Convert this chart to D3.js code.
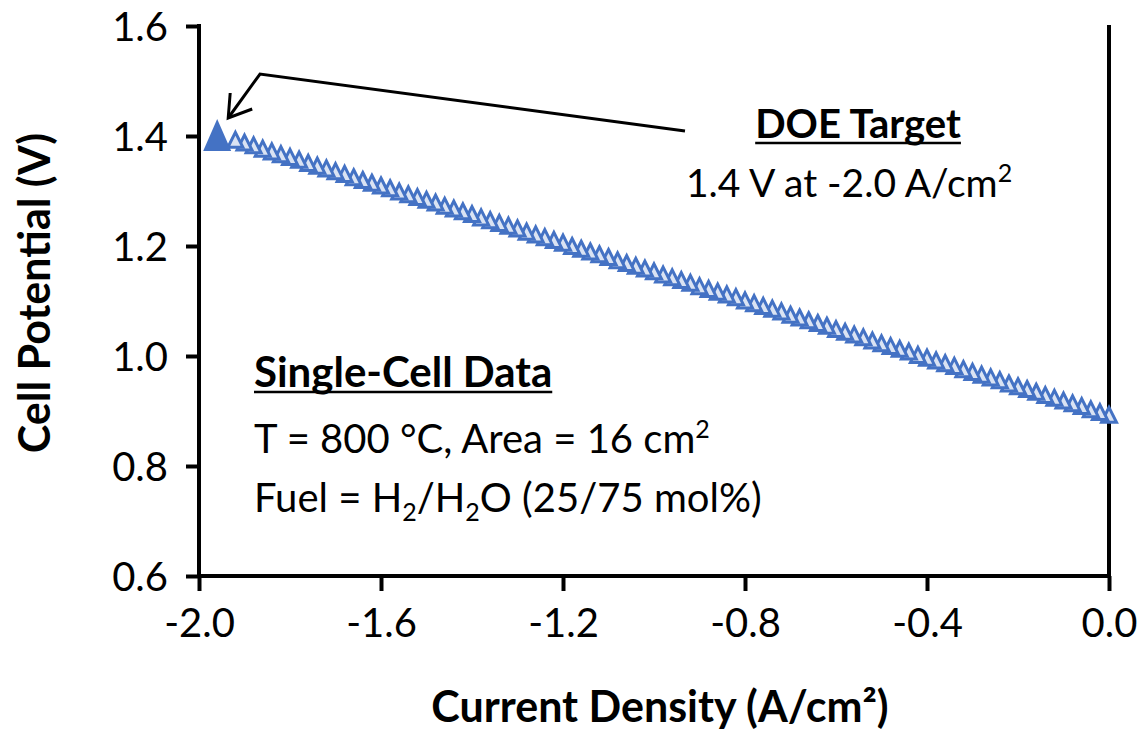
<!DOCTYPE html>
<html>
<head>
<meta charset="utf-8">
<script src="https://cdn.jsdelivr.net/npm/d3@7"></script>
<style>
  body { margin: 0; background: #fff; }
  svg text { font-family: Lato, "Noto Sans", sans-serif; fill: #000; }
</style>
</head>
<body>
<svg id="chart" width="1142" height="733"></svg>
<script>
// single-cell data
var currentDensity = [
  0.00, -0.02, -0.04, -0.06, -0.08, -0.10, -0.12, -0.14, -0.16, -0.18,
  -0.20, -0.22, -0.24, -0.26, -0.28, -0.30, -0.32, -0.34, -0.36, -0.38,
  -0.40, -0.42, -0.44, -0.46, -0.48, -0.50, -0.52, -0.54, -0.56, -0.58,
  -0.60, -0.62, -0.64, -0.66, -0.68, -0.70, -0.72, -0.74, -0.76, -0.78,
  -0.80, -0.82, -0.84, -0.86, -0.88, -0.90, -0.92, -0.94, -0.96, -0.98,
  -1.00, -1.02, -1.04, -1.06, -1.08, -1.10, -1.12, -1.14, -1.16, -1.18,
  -1.20, -1.22, -1.24, -1.26, -1.28, -1.30, -1.32, -1.34, -1.36, -1.38,
  -1.40, -1.42, -1.44, -1.46, -1.48, -1.50, -1.52, -1.54, -1.56, -1.58,
  -1.60, -1.62, -1.64, -1.66, -1.68, -1.70, -1.72, -1.74, -1.76, -1.78,
  -1.80, -1.82, -1.84, -1.86, -1.88, -1.90, -1.92
]
var cellPotential = [
  0.893, 0.898, 0.903, 0.909, 0.914, 0.919, 0.924, 0.929, 0.935, 0.940,
  0.945, 0.950, 0.956, 0.961, 0.966, 0.971, 0.976, 0.982, 0.987, 0.992,
  0.997, 1.002, 1.008, 1.013, 1.018, 1.023, 1.028, 1.034, 1.039, 1.044,
  1.049, 1.055, 1.060, 1.065, 1.070, 1.075, 1.081, 1.086, 1.091, 1.096,
  1.101, 1.107, 1.112, 1.117, 1.122, 1.127, 1.133, 1.138, 1.143, 1.148,
  1.154, 1.159, 1.164, 1.169, 1.174, 1.180, 1.185, 1.190, 1.195, 1.200,
  1.206, 1.211, 1.216, 1.221, 1.226, 1.232, 1.237, 1.242, 1.247, 1.252,
  1.258, 1.263, 1.268, 1.273, 1.279, 1.284, 1.289, 1.294, 1.299, 1.305,
  1.310, 1.315, 1.320, 1.325, 1.331, 1.336, 1.341, 1.346, 1.351, 1.357,
  1.362, 1.367, 1.372, 1.377, 1.383, 1.388, 1.393
]
// DOE target point
var targetCurrent = [-1.96]
var targetPotential = [1.40]

var xTicks = [-2.0, -1.6, -1.2, -0.8, -0.4, 0.0]
var yTicks = [0.6, 0.8, 1.0, 1.2, 1.4, 1.6]

var pLeft = 199, pRight = 1109, pTop = 26, pBottom = 576
var blue = "#4472C4"

var svg = d3.select("#chart")

var x = d3.scaleLinear().domain([-2.0, 0.0]).range([pLeft, pRight])
var y = d3.scaleLinear().domain([0.6, 1.6]).range([pBottom, pTop])

var fmt = d => d.toFixed(1)

// right border line
svg.append("line")
  .attr("x1", pRight).attr("x2", pRight)
  .attr("y1", pTop - 1).attr("y2", pBottom)
  .attr("stroke", "#000").attr("stroke-width", 4)

var xAxis = svg.append("g")
  .attr("transform", "translate(0," + pBottom + ")")
  .call(d3.axisBottom(x).tickValues(xTicks).tickFormat(fmt).tickSize(15).tickPadding(18).tickSizeOuter(0))
var yAxis = svg.append("g")
  .attr("transform", "translate(" + pLeft + ",0)")
  .call(d3.axisLeft(y).tickValues(yTicks).tickFormat(fmt).tickSize(13).tickPadding(18).tickSizeOuter(0))

svg.selectAll(".domain").attr("stroke", "#000").attr("stroke-width", 4)
xAxis.select(".domain").attr("d", "M" + (pLeft - 2) + ",0H" + (pRight + 2))
yAxis.select(".domain").attr("d", "M0," + (pTop - 2) + "V" + (pBottom + 2))
svg.selectAll(".tick line").attr("stroke", "#000").attr("stroke-width", 4)
svg.selectAll(".tick text").style("font-size", "40px").style("font-family", "Lato")
xAxis.selectAll(".tick text").attr("dy", "0.71em")
yAxis.selectAll(".tick text").attr("dy", "0.36em")

// triangle marker path, centred on its box
function triPath(w, h) {
  return "M0," + (-h / 2) + "L" + (w / 2) + "," + (h / 2) + "L" + (-w / 2) + "," + (h / 2) + "Z"
}

// open triangle markers
var pts = currentDensity.map(function(c, i) { return [c, cellPotential[i]] })
svg.append("g").selectAll("path")
  .data(pts)
  .enter()
  .append("path")
  .attr("d", triPath(15, 15))
  .attr("transform", d => "translate(" + x(d[0]) + "," + y(d[1]) + ")")
  .attr("fill", "#DAE3F3")
  .attr("stroke", blue)
  .attr("stroke-width", 3)
  .attr("stroke-linejoin", "miter")

// DOE target marker
svg.append("g").selectAll("path")
  .data(targetCurrent.map((c, i) => [c, targetPotential[i]]))
  .enter()
  .append("path")
  .attr("d", triPath(28, 32))
  .attr("transform", d => "translate(" + x(d[0]) + "," + (y(d[1]) - 1) + ")")
  .attr("fill", blue)

// annotation arrow
var tx = x(targetCurrent[0]) + 11, ty = y(targetPotential[0]) - 18
svg.append("path")
  .attr("d", "M685,131L260,74L" + tx + "," + ty)
  .attr("fill", "none").attr("stroke", "#000").attr("stroke-width", 3)
svg.append("path")
  .attr("d", "M" + (tx + 2) + "," + (ty - 25) + "L" + tx + "," + ty + "L" + (tx + 24) + "," + (ty - 9))
  .attr("fill", "none").attr("stroke", "#000").attr("stroke-width", 3)

function underline(t) {
  var b = t.node().getBBox()
  svg.append("line")
    .attr("x1", b.x).attr("x2", b.x + b.width)
    .attr("y1", +t.attr("y") + 5).attr("y2", +t.attr("y") + 5)
    .attr("stroke", "#000").attr("stroke-width", 2.5)
}

var doe = svg.append("text").attr("x", 858).attr("y", 138)
  .attr("text-anchor", "middle").style("font-size", "40px").style("font-weight", "bold")
  .text("DOE Target")
underline(doe)

var t1 = svg.append("text").attr("x", 686).attr("y", 197).style("font-size", "39px")
t1.append("tspan").text("1.4 V at -2.0 A/cm")
t1.append("tspan").attr("dy", -15).style("font-size", "25px").text("2")

var sc = svg.append("text").attr("x", 254).attr("y", 387)
  .style("font-size", "42px").style("font-weight", "bold").text("Single-Cell Data")
underline(sc)

var t2 = svg.append("text").attr("x", 254).attr("y", 453).style("font-size", "40px")
t2.append("tspan").text("T = 800 °C, Area = 16 cm")
t2.append("tspan").attr("dy", -15).style("font-size", "25px").text("2")

var t3 = svg.append("text").attr("x", 254).attr("y", 512).style("font-size", "40px")
t3.append("tspan").text("Fuel = H")
t3.append("tspan").attr("dy", 9).style("font-size", "25px").text("2")
t3.append("tspan").attr("dy", -9).text("/H")
t3.append("tspan").attr("dy", 9).style("font-size", "25px").text("2")
t3.append("tspan").attr("dy", -9).text("O (25/75 mol%)")

// axis titles
svg.append("text").attr("x", 660).attr("y", 722)
  .attr("text-anchor", "middle").style("font-size", "43px").style("font-weight", "bold")
  .text("Current Density (A/cm²)")
svg.append("text")
  .attr("transform", "translate(50," + ((pTop + pBottom) / 2 - 8) + ") rotate(-90)")
  .attr("text-anchor", "middle").style("font-size", "43px").style("font-weight", "bold")
  .text("Cell Potential (V)")
</script>
</body>
</html>
